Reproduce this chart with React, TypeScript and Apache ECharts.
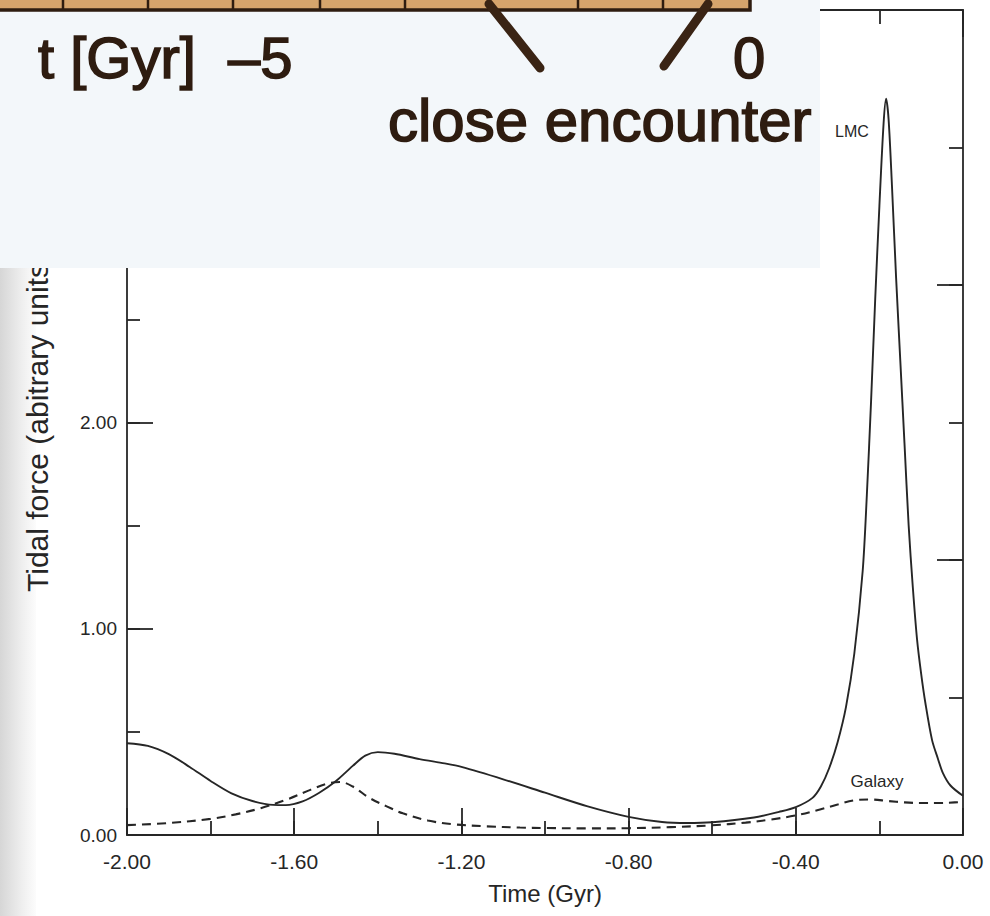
import React, { useEffect, useRef } from "react";
import * as echarts from "echarts";

// ---- data ----
const lmcTime = [
  -2.0, -1.95, -1.9, -1.85, -1.8, -1.75, -1.7, -1.65, -1.62, -1.58, -1.54, -1.5, -1.46, -1.43, -1.4,
  -1.36, -1.3, -1.24, -1.2, -1.1, -1.0, -0.9, -0.8, -0.72, -0.66, -0.6, -0.5, -0.44, -0.4, -0.36,
  -0.34, -0.32, -0.3, -0.28, -0.26, -0.24, -0.23, -0.22, -0.21, -0.2, -0.19, -0.184, -0.178, -0.17,
  -0.16, -0.15, -0.14, -0.13, -0.12, -0.11, -0.1, -0.09, -0.074, -0.06, -0.048, -0.03, 0.0,
];
const lmcForce = [
  0.445, 0.432, 0.392, 0.33, 0.262, 0.202, 0.165, 0.146, 0.145, 0.163, 0.205, 0.262, 0.335, 0.385, 0.402,
  0.394, 0.368, 0.347, 0.33, 0.27, 0.205, 0.14, 0.088, 0.063, 0.058, 0.062, 0.085, 0.112, 0.135, 0.18,
  0.235, 0.325, 0.45, 0.62, 0.88, 1.28, 1.65, 2.1, 2.6, 3.05, 3.45, 3.57, 3.47, 3.15,
  2.7, 2.3, 1.9, 1.5, 1.2, 0.95, 0.78, 0.64, 0.46, 0.37, 0.3, 0.24, 0.19,
];
const galaxyTime = [
  -2.0, -1.9, -1.8, -1.74, -1.68, -1.62, -1.56, -1.52, -1.49, -1.46, -1.42, -1.38, -1.34, -1.28,
  -1.22, -1.14, -1.06, -1.0, -0.9, -0.8, -0.7, -0.6, -0.52, -0.46, -0.4, -0.34, -0.3, -0.26, -0.22,
  -0.18, -0.14, -0.1, -0.06, -0.02, 0.0,
];
const galaxyForce = [
  0.048, 0.058, 0.078, 0.1, 0.13, 0.17, 0.22, 0.25, 0.257, 0.235, 0.18, 0.14, 0.105, 0.07,
  0.052, 0.042, 0.036, 0.034, 0.032, 0.033, 0.038, 0.047, 0.06, 0.075, 0.095, 0.125, 0.148, 0.168, 0.172,
  0.165, 0.158, 0.155, 0.155, 0.158, 0.16,
];
const seriesNames = ["LMC", "Galaxy"];
const xAxisTitle = "Time (Gyr)";
const yAxisTitle = "Tidal force (abitrary units)";
const insetAxisLabel = "t [Gyr]";
const insetTickLabels = ["\u20135", "0"];
const insetCaption = "close encounter";

const FONT = "'Liberation Sans', Arial, Helvetica, sans-serif";
const INK = "#262626";
const BROWN = "#2e1c10";

export default function App() {
  const ref = useRef<HTMLDivElement>(null);

  useEffect(() => {
    if (!ref.current) return;
    const chart = echarts.init(ref.current, null, { renderer: "svg" });

    const lmcData = lmcTime.map((t, i) => [t, lmcForce[i]]);
    const galaxyData = galaxyTime.map((t, i) => [t, galaxyForce[i]]);

    const axisLine = { show: true, onZero: false, lineStyle: { color: INK, width: 1.8 } };
    const noLine = { show: false, onZero: false };
    const tick = (length: number) => ({
      show: true,
      inside: true,
      length,
      lineStyle: { color: INK, width: 1.8 },
    });
    const dividers = [63, 148, 233, 320, 405, 490, 578, 663];

    const xBase = { type: "value", min: -2, max: 0, splitLine: { show: false } };
    const yLeftBase = { type: "value", min: 0, max: 4, splitLine: { show: false } };
    const yRightBase = { type: "value", min: 0, max: 6, splitLine: { show: false } };

    const option: any = {
      animation: false,
      backgroundColor: "#ffffff",
      grid: { left: 127, right: 27, top: 10, bottom: 81, containLabel: false },
      xAxis: [
        {
          ...xBase,
          position: "bottom",
          interval: 0.4,
          axisLine,
          axisTick: tick(27),
          axisLabel: {
            color: INK,
            fontFamily: FONT,
            fontSize: 21,
            margin: 16,
            formatter: (v: number) => v.toFixed(2),
          },
          name: xAxisTitle,
          nameLocation: "middle",
          nameGap: 46,
          nameTextStyle: { color: INK, fontFamily: FONT, fontSize: 24 },
        },
        { ...xBase, position: "bottom", interval: 0.2, axisLine: noLine, axisTick: tick(14), axisLabel: { show: false } },
        { ...xBase, position: "top", interval: 0.4, axisLine, axisTick: tick(27), axisLabel: { show: false } },
        { ...xBase, position: "top", interval: 0.2, axisLine: noLine, axisTick: tick(14), axisLabel: { show: false } },
      ],
      yAxis: [
        {
          ...yLeftBase,
          position: "left",
          interval: 1,
          axisLine,
          axisTick: tick(26),
          axisLabel: {
            color: INK,
            fontFamily: FONT,
            fontSize: 19,
            margin: 10,
            formatter: (v: number) => v.toFixed(2),
          },
          name: yAxisTitle,
          nameLocation: "middle",
          nameRotate: 90,
          nameGap: 75,
          nameTextStyle: { color: INK, fontFamily: FONT, fontSize: 30 },
        },
        { ...yLeftBase, position: "left", interval: 0.5, axisLine: noLine, axisTick: tick(13), axisLabel: { show: false } },
        { ...yRightBase, position: "right", interval: 2, axisLine, axisTick: tick(26), axisLabel: { show: false } },
        { ...yRightBase, position: "right", interval: 1, axisLine: noLine, axisTick: tick(14), axisLabel: { show: false } },
      ],
      series: [
        {
          name: seriesNames[0],
          type: "line",
          xAxisIndex: 0,
          yAxisIndex: 0,
          data: lmcData,
          showSymbol: false,
          smooth: 0.3,
          lineStyle: { color: "#262626", width: 1.9, type: "solid" },
          z: 3,
        },
        {
          name: seriesNames[1],
          type: "line",
          xAxisIndex: 0,
          yAxisIndex: 0,
          data: galaxyData,
          showSymbol: false,
          smooth: 0.35,
          lineStyle: { color: "#262626", width: 2.1, type: [9, 6] },
          z: 3,
        },
      ],
      graphic: [
        {
          type: "rect",
          z: -10,
          silent: true,
          shape: { x: 0, y: 268, width: 36, height: 648 },
          style: {
            fill: new echarts.graphic.LinearGradient(0, 0, 1, 0, [
              { offset: 0, color: "#d6d6d6" },
              { offset: 0.6, color: "#eeeeee" },
              { offset: 1, color: "#fcfcfc" },
            ]),
          },
        },
        {
          type: "text",
          z: 50,
          silent: true,
          style: {
            text: seriesNames[0],
            x: 852,
            y: 131,
            align: "center",
            verticalAlign: "middle",
            fill: INK,
            font: `16px ${FONT}`,
          },
        },
        {
          type: "text",
          z: 50,
          silent: true,
          style: {
            text: seriesNames[1],
            x: 877,
            y: 781,
            align: "center",
            verticalAlign: "middle",
            fill: INK,
            font: `17px ${FONT}`,
          },
        },
        {
          type: "rect",
          z: 100,
          silent: true,
          shape: { x: 0, y: 0, width: 820, height: 268 },
          style: { fill: "#f3f7fa" },
        },
        {
          type: "rect",
          z: 101,
          silent: true,
          shape: { x: -6, y: -12, width: 756, height: 22 },
          style: { fill: "#d6a46c", stroke: BROWN, lineWidth: 3.5 },
        },
        ...dividers.map((dx) => ({
          type: "line",
          z: 102,
          silent: true,
          shape: { x1: dx, y1: -2, x2: dx, y2: 10 },
          style: { stroke: BROWN, lineWidth: 2.5 },
        })),
        {
          type: "line",
          z: 102,
          silent: true,
          shape: { x1: 489, y1: 4, x2: 540, y2: 68 },
          style: { stroke: "#3a2414", lineWidth: 9, lineCap: "round" },
        },
        {
          type: "line",
          z: 102,
          silent: true,
          shape: { x1: 708, y1: 4, x2: 664, y2: 66 },
          style: { stroke: "#3a2414", lineWidth: 9, lineCap: "round" },
        },
        ...[
          { text: insetAxisLabel, x: 38, y: 57, size: 58 },
          { text: insetTickLabels[0], x: 228, y: 57, size: 58 },
          { text: insetTickLabels[1], x: 733, y: 57, size: 58 },
          { text: insetCaption, x: 388, y: 120, size: 60 },
        ].map((t) => ({
          type: "text",
          z: 103,
          silent: true,
          style: {
            text: t.text,
            x: t.x,
            y: t.y,
            align: "left",
            verticalAlign: "middle",
            fill: BROWN,
            stroke: BROWN,
            lineWidth: 1.6,
            font: `${t.size}px ${FONT}`,
          },
        })),
      ],
    };

    chart.setOption(option);
    return () => chart.dispose();
  }, []);

  return (
    <div
      ref={ref}
      style={{ position: "absolute", left: 0, top: 0, width: 990, height: 916 }}
    />
  );
}
